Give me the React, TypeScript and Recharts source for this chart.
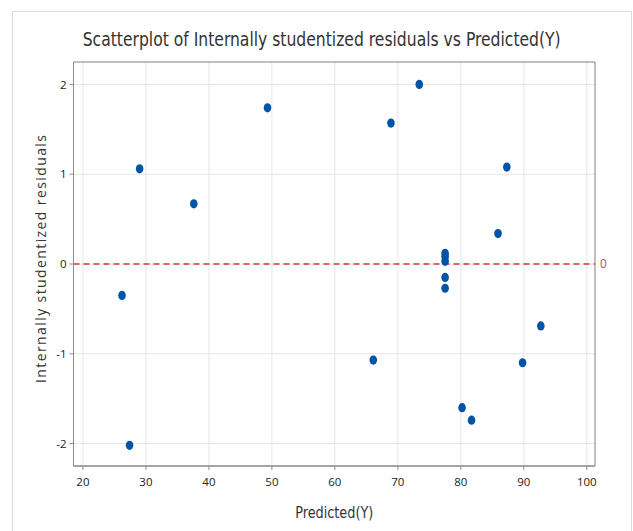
import { CartesianGrid, ReferenceArea, ReferenceLine, Scatter, ScatterChart, XAxis, YAxis } from "recharts";

// Predicted(Y) values
const predicted = [26.2, 27.4, 29.0, 37.6, 49.3, 66.1, 68.9, 73.4, 77.5, 77.5, 77.5, 77.5, 77.5, 80.2, 81.7, 85.9, 87.3, 89.8, 92.7];
// internally studentized residuals, same order
const residuals = [-0.35, -2.02, 1.06, 0.67, 1.74, -1.07, 1.57, 2.0, 0.12, 0.08, 0.03, -0.15, -0.27, -1.6, -1.74, 0.34, 1.08, -1.1, -0.69];

const xTicks = [20, 30, 40, 50, 60, 70, 80, 90, 100];
const yTicks = [-2, -1, 0, 1, 2];
const xDomain = [18.5, 101.3];
const yDomain = [-2.25, 2.25];

const points = predicted.map((x, i) => ({ x, y: residuals[i] }));

const tickStyle = { fontFamily: "'Open Sans', sans-serif", fontSize: 11.5, fill: "#222" };

function Dot(props: any) {
  const { cx, cy } = props;
  return <ellipse cx={cx} cy={cy} rx={3.8} ry={4.6} fill="#0054A6" />;
}

function XLabel({ viewBox }: any) {
  return (
    <text
      x={viewBox.x + viewBox.width / 2}
      y={viewBox.y + 52}
      textAnchor="middle"
      fontFamily="'Liberation Sans Narrow', 'DejaVu Sans Condensed', sans-serif"
      fontSize={16}
      fill="#333"
      textLength={78}
      lengthAdjust="spacingAndGlyphs"
    >
      Predicted(Y)
    </text>
  );
}

function YLabel({ viewBox }: any) {
  const x = viewBox.x + 46;
  const y = viewBox.y + viewBox.height / 2 - 5;
  return (
    <text
      x={x}
      y={y}
      transform={`rotate(-90, ${x}, ${y})`}
      textAnchor="middle"
      fontFamily="'Open Sans', sans-serif"
      fontSize={14}
      fill="#333"
      textLength={248}
    >
      Internally studentized residuals
    </text>
  );
}

export default function App() {
  return (
    <div style={{ position: "absolute", left: 0, top: 0, width: 633, height: 531, background: "#fff" }}>
      <div
        style={{
          position: "absolute",
          left: 12,
          top: 11,
          width: 618,
          height: 520,
          borderTop: "1px solid #dcdcdc",
          borderLeft: "1px solid #dcdcdc",
          borderRight: "1px solid #dcdcdc",
        }}
      />
      <ScatterChart width={633} height={531} margin={{ top: 62, right: 38, bottom: 0, left: 0 }} style={{ position: "absolute", left: 0, top: 0 }}>
        <CartesianGrid stroke="#e6e6e6" />
        <XAxis
          type="number"
          dataKey="x"
          domain={xDomain}
          ticks={xTicks}
          allowDataOverflow
          height={65}
          stroke="#8c8c8c"
          tickSize={4}
          tickMargin={8}
          tick={tickStyle}
          label={<XLabel />}
        />
        <YAxis
          type="number"
          dataKey="y"
          domain={yDomain}
          ticks={yTicks}
          allowDataOverflow
          width={73.5}
          stroke="#8c8c8c"
          tickSize={4}
          tickMargin={3}
          tick={tickStyle}
          label={<YLabel />}
        />
        {/* plot frame */}
        <ReferenceArea x1={xDomain[0]} x2={xDomain[1]} y1={yDomain[0]} y2={yDomain[1]} fill="none" fillOpacity={0} stroke="#8c8c8c" strokeWidth={1} ifOverflow="visible" />
        <ReferenceLine
          y={0}
          stroke="#d93636"
          strokeWidth={1.3}
          strokeDasharray="6 4"
          label={{ value: "0", position: "right", offset: 5, fill: "#c0504d", fontSize: 12, fontFamily: "'Open Sans', sans-serif" }}
        />
        <Scatter data={points} shape={<Dot />} isAnimationActive={false} />
      </ScatterChart>
      <svg width={633} height={60} style={{ position: "absolute", left: 0, top: 0, pointerEvents: "none" }}>
        <text
          x={321.7}
          y={46}
          textAnchor="middle"
          fontFamily="'Liberation Sans Narrow', 'DejaVu Sans Condensed', sans-serif"
          fontSize={19}
          fill="#333"
          textLength={478}
          lengthAdjust="spacingAndGlyphs"
        >
          Scatterplot of Internally studentized residuals vs Predicted(Y)
        </text>
      </svg>
    </div>
  );
}
